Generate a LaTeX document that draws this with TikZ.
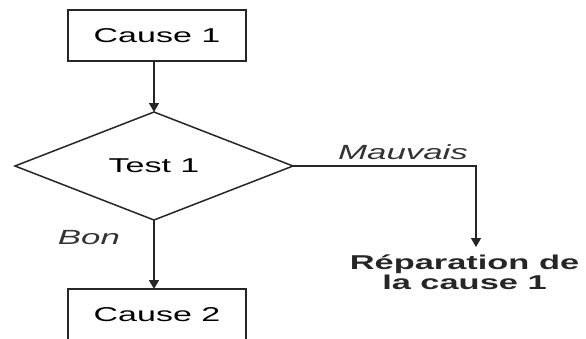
\documentclass[tikz,border=0pt]{standalone}
\usepackage{fontspec}
\setmainfont[FakeStretch=1.7]{Liberation Sans}
\newfontfamily\repfont[FakeStretch=1.72]{Liberation Sans Bold}
\usetikzlibrary{shapes.geometric,arrows.meta}
\begin{document}
\begin{tikzpicture}[x=1pt,y=-1pt,
  line width=1.5pt,
  boxstyle/.style={draw=black!85, rectangle, minimum width=178pt, inner sep=0pt, outer sep=0pt, font=\fontsize{20}{24}\selectfont},
  teststyle/.style={draw=black!85, diamond, aspect=2.574, minimum width=278pt, minimum height=108pt, inner sep=0pt, outer sep=0pt, font=\fontsize{20}{24}\selectfont},
  conn/.style={draw=black!85, -{Triangle[length=9pt,width=10pt]}},
  lbl/.style={font=\fontsize{20.5}{24}\selectfont\itshape, text=black!80},
  outtext/.style={font=\repfont\fontsize{20}{18}\selectfont, align=center, inner sep=0pt, text=black!85}]
\useasboundingbox (0,0) rectangle (586,338);
\node[boxstyle, minimum height=51pt] (c1) at (157,35.5) {Cause 1};
\node[teststyle] (t1) at (154,166) {Test 1};
\node[boxstyle, minimum height=70pt, anchor=north] (c2) at (157,289) {};
\node[font=\fontsize{20}{24}\selectfont] (c2t) at (157,315) {Cause 2};
\node[outtext, anchor=north] (rep) at (464.5,254.5) {Réparation de\\la cause 1};
\coordinate (mend) at (476,247);
\draw[conn] (c1.south -| t1.north) -- (t1.north);
\draw[conn] (t1.south) -- (t1.south |- c2.north);
\draw[conn] (t1.east) -| (mend);
\node[lbl] (mv) at (403,152) {Mauvais};
\node[lbl] (bn) at (89,238) {Bon};
\end{tikzpicture}
\end{document}
